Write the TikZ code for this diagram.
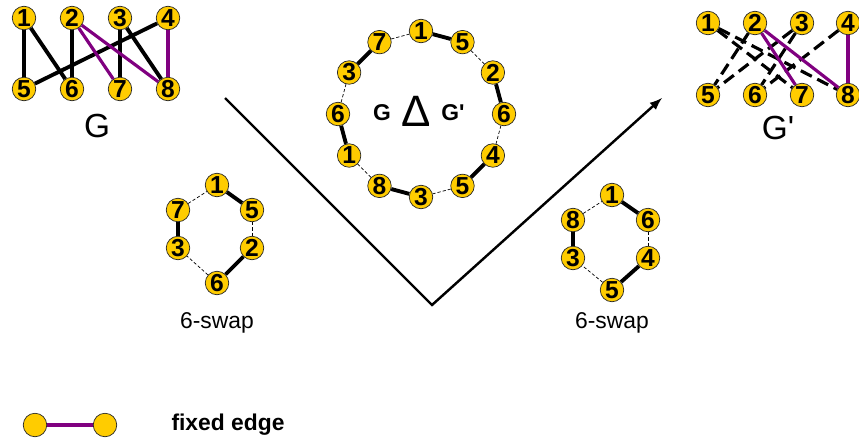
\documentclass[tikz,border=0pt]{standalone}
\usepackage{fontspec}
\setmainfont{Liberation Sans}
\usetikzlibrary{calc,backgrounds}
\definecolor{vertfill}{RGB}{255,204,0}
\definecolor{fixpurple}{RGB}{128,0,128}

\begin{document}
\begin{tikzpicture}[x=0.02cm,y=-0.02cm,>=latex]
	% styles for vertices and edges
	\tikzstyle{vert}=[circle,draw=black!85,fill=vertfill,minimum size=0.47cm,inner sep=0pt,font=\fontsize{14}{14}\selectfont\bfseries]
	\tikzstyle{gedge}=[line width=2.2pt]
	\tikzstyle{fixedge}=[draw=fixpurple,line width=1.8pt]
	\tikzstyle{newedge}=[line width=1.8pt,dash pattern=on 7pt off 3.5pt]
	\tikzstyle{swapthick}=[line width=2.2pt]
	\tikzstyle{swapthin}=[line width=0.4pt,dash pattern=on 1.8pt off 1.2pt]

	\useasboundingbox (0,0) rectangle (859,443);

	% graph G
	\foreach \n/\x in {1/24,2/72,3/120,4/168,5/24,6/72,7/120,8/168}
	{
		\pgfmathsetmacro{\y}{\n<5 ? 18 : 89}
		\node[vert] (g\n) at (\x,\y) {\n};
	}
	\node[font=\fontsize{19}{19}\selectfont] (glabel) at (97,126) {G};

	% graph G'
	\foreach \n/\x in {1/708,2/755,3/802,4/848,5/708,6/755,7/802,8/848}
	{
		\pgfmathsetmacro{\y}{\n<5 ? 23 : 95}
		\node[vert] (h\n) at (\x,\y) {\n};
	}
	\node[font=\fontsize{19}{19}\selectfont] (gplabel) at (778,128) {G\textquotesingle};

	% the symmetric difference as one 12-cycle
	\foreach \i/\lab in {0/1,1/5,2/2,3/6,4/4,5/5,6/3,7/8,8/1,9/6,10/3,11/7}
		\node[vert] (r\i) at ($(421,114)+({-90+30*\i}:83)$) {\lab};
	\node[font=\fontsize{13}{13}\selectfont\bfseries] (symg) at (382,113) {G};
	\node[font=\fontsize{25}{25}\selectfont] (symd) at (416,111) {Δ};
	\node[font=\fontsize{13}{13}\selectfont\bfseries] (symgp) at (453,113) {G\textquotesingle};

	% left 6-swap
	\foreach \i/\lab/\x/\y in {1/1/217/185,2/5/252/210,3/2/252/248,4/6/217/283,5/3/178/248,6/7/178/210}
		\node[vert] (a\i) at (\x,\y) {\lab};
	\node[font=\fontsize{13}{13}\selectfont] (aswap) at (217,323) {6-swap};

	% right 6-swap
	\foreach \i/\lab/\x/\y in {1/1/612/195,2/6/648/220,3/4/648/258,4/5/612/290,5/3/573/258,6/8/573/220}
		\node[vert] (b\i) at (\x,\y) {\lab};
	\node[font=\fontsize{13}{13}\selectfont] (bswap) at (612,323) {6-swap};

	% legend
	\node[vert] (l1) at (35,425) {};
	\node[vert] (l2) at (105,425) {};
	\node[font=\fontsize{13}{13}\selectfont\bfseries] (ltext) at (228,425) {fixed edge};

	% the V-shaped arrow
	\coordinate (v0) at (225,98);
	\coordinate (v1) at (432,305);
	\coordinate (v2) at (662,98);
	\draw[->,line width=1.4pt] (v0) -- (v1) -- (v2);

	\begin{scope}[on background layer]
		% edges of G
		\foreach \a/\b in {1/5,1/6,2/6,4/5,3/7,3/8}
			\draw[gedge] (g\a) -- (g\b);
		\foreach \a/\b in {2/7,2/8,4/8}
			\draw[fixedge] (g\a) -- (g\b);
		% edges of G'
		\foreach \a/\b in {1/7,1/8,2/5,3/5,3/6,4/6}
			\draw[newedge] (h\a) -- (h\b);
		\foreach \a/\b in {2/7,2/8,4/8}
			\draw[fixedge] (h\a) -- (h\b);
		% cycle edges
		\foreach \i in {0,2,...,10}
		{
			\pgfmathtruncatemacro{\j}{\i+1}
			\pgfmathtruncatemacro{\k}{mod(\i+2,12)}
			\draw[swapthick] (r\i) -- (r\j);
			\draw[swapthin] (r\j) -- (r\k);
		}
		% 6-swap edges
		\foreach \p in {a,b}
		{
			\draw[swapthick] (\p1) -- (\p2);
			\draw[swapthick] (\p3) -- (\p4);
			\draw[swapthick] (\p5) -- (\p6);
			\draw[swapthin] (\p2) -- (\p3);
			\draw[swapthin] (\p4) -- (\p5);
			\draw[swapthin] (\p6) -- (\p1);
		}
		\draw[fixedge] (l1) -- (l2);
	\end{scope}
\end{tikzpicture}
\end{document}
